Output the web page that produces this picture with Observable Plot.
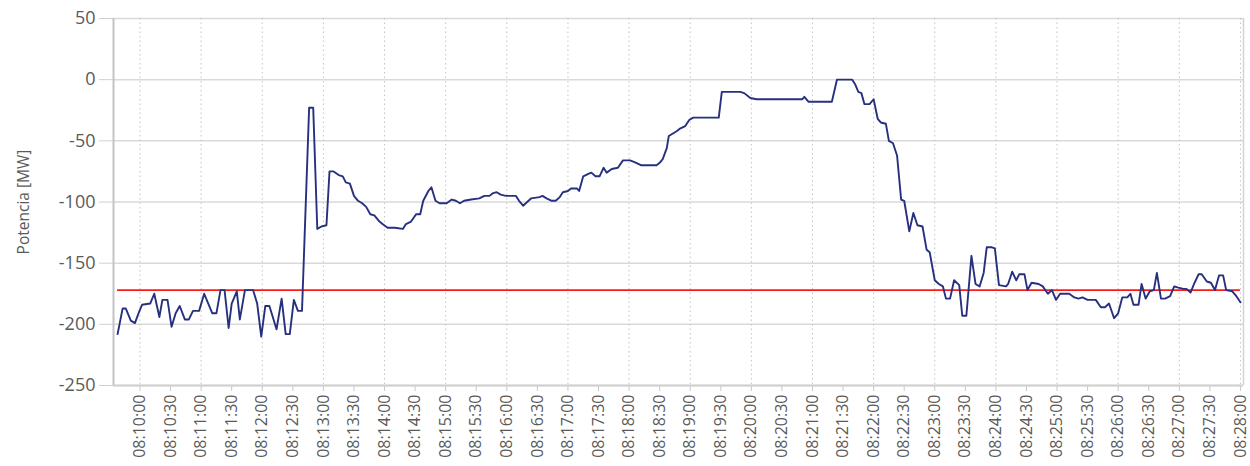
<!DOCTYPE html>
<html>
<head>
<meta charset="utf-8">
<script src="https://cdn.jsdelivr.net/npm/d3@7"></script>
<script src="https://cdn.jsdelivr.net/npm/@observablehq/plot@0.6"></script>
<style>
  html, body { margin: 0; padding: 0; background: #fff; }
  #chart { width: 1250px; height: 466px; }
</style>
</head>
<body>
<div id="chart"></div>
<script>
// ---- data ----
const times = [
  "08:09:38","08:09:43","08:09:46","08:09:51","08:09:55","08:09:59","08:10:02","08:10:10","08:10:14","08:10:19",
  "08:10:22","08:10:27","08:10:31","08:10:35","08:10:39","08:10:44","08:10:48","08:10:52","08:10:58","08:11:03",
  "08:11:07","08:11:11","08:11:15","08:11:19","08:11:23","08:11:27","08:11:30","08:11:35","08:11:38","08:11:43",
  "08:11:51","08:11:55","08:11:59","08:12:03","08:12:07","08:12:14","08:12:19","08:12:23","08:12:27","08:12:31",
  "08:12:35","08:12:39","08:12:46","08:12:50","08:12:54","08:12:58","08:13:03","08:13:06","08:13:10","08:13:15",
  "08:13:19","08:13:22","08:13:26","08:13:30","08:13:34","08:13:38","08:13:42","08:13:46","08:13:50","08:13:55",
  "08:13:58","08:14:03","08:14:10","08:14:18","08:14:21","08:14:26","08:14:31","08:14:35","08:14:38","08:14:43",
  "08:14:46","08:14:50","08:14:54","08:15:01","08:15:06","08:15:10","08:15:14","08:15:18","08:15:25","08:15:33",
  "08:15:38","08:15:43","08:15:46","08:15:50","08:15:54","08:15:59","08:16:09","08:16:12","08:16:16","08:16:20",
  "08:16:24","08:16:32","08:16:35","08:16:39","08:16:44","08:16:48","08:16:52","08:16:55","08:17:00","08:17:03",
  "08:17:09","08:17:11","08:17:15","08:17:20","08:17:23","08:17:27","08:17:31","08:17:35","08:17:38","08:17:43",
  "08:17:49","08:17:54","08:18:01","08:18:07","08:18:12","08:18:27","08:18:30","08:18:33","08:18:37","08:18:39",
  "08:18:43","08:18:47","08:18:50","08:18:55","08:18:59","08:19:03","08:19:28","08:19:31","08:19:36","08:19:49",
  "08:19:53","08:19:59","08:20:05","08:20:50","08:20:52","08:20:56","08:21:19","08:21:24","08:21:39","08:21:42",
  "08:21:45","08:21:48","08:21:51","08:21:56","08:22:00","08:22:04","08:22:07","08:22:12","08:22:15","08:22:19",
  "08:22:23","08:22:27","08:22:30","08:22:35","08:22:39","08:22:43","08:22:48","08:22:52","08:22:55","08:23:00",
  "08:23:04","08:23:08","08:23:11","08:23:15","08:23:19","08:23:24","08:23:27","08:23:31","08:23:36","08:23:40",
  "08:23:44","08:23:48","08:23:51","08:23:56","08:23:59","08:24:03","08:24:10","08:24:12","08:24:16","08:24:20",
  "08:24:23","08:24:28","08:24:31","08:24:35","08:24:42","08:24:46","08:24:51","08:24:55","08:24:59","08:25:03",
  "08:25:12","08:25:17","08:25:21","08:25:25","08:25:30","08:25:38","08:25:43","08:25:47","08:25:51","08:25:56",
  "08:26:00","08:26:04","08:26:09","08:26:12","08:26:15","08:26:20","08:26:23","08:26:27","08:26:31","08:26:35",
  "08:26:38","08:26:42","08:26:46","08:26:51","08:26:55","08:26:59","08:27:04","08:27:07","08:27:11","08:27:15",
  "08:27:19","08:27:22","08:27:27","08:27:31","08:27:35","08:27:39","08:27:43","08:27:46","08:27:52","08:27:56",
  "08:28:00"
];
const power = [
  -208,-187,-187,-197,-199,-190,-184,-183,-175,-194,
  -180,-180,-202,-191,-185,-196,-196,-189,-189,-175,
  -183,-191,-191,-172,-172,-203,-183,-173,-196,-172,
  -172,-183,-210,-185,-185,-204,-179,-208,-208,-180,
  -189,-189,-23,-23,-122,-120,-119,-75,-75,-78,
  -79,-84,-85,-95,-99,-101,-104,-110,-111,-116,
  -118,-121,-121,-122,-118,-116,-110,-110,-99,-91,
  -88,-99,-101,-101,-98,-99,-101,-99,-98,-97,
  -95,-95,-93,-92,-94,-95,-95,-99,-103,-100,
  -97,-96,-95,-97,-99,-99,-96,-92,-91,-89,
  -89,-91,-79,-77,-76,-79,-79,-72,-76,-73,
  -72,-66,-66,-68,-70,-70,-68,-65,-56,-46,
  -44,-42,-40,-38,-33,-31,-31,-10,-10,-10,
  -11,-15,-16,-16,-14,-18,-18,0,0,-4,
  -10,-11,-20,-20,-16,-32,-35,-36,-50,-52,
  -62,-98,-99,-124,-109,-119,-120,-139,-141,-164,
  -167,-169,-179,-179,-164,-168,-193,-193,-144,-167,
  -169,-158,-137,-137,-138,-168,-169,-167,-157,-164,
  -159,-159,-172,-166,-167,-169,-175,-172,-180,-175,
  -175,-178,-179,-178,-180,-180,-186,-186,-183,-195,
  -191,-178,-178,-175,-184,-184,-167,-179,-173,-172,
  -158,-179,-179,-177,-169,-170,-171,-171,-174,-166,
  -159,-159,-165,-166,-172,-160,-160,-172,-173,-177,
  -182
];
const referenceLevel = -172;
const yTicks = [-250, -200, -150, -100, -50, 0, 50];
const xTickLabels = [
  "08:10:00","08:10:30","08:11:00","08:11:30","08:12:00","08:12:30","08:13:00","08:13:30","08:14:00","08:14:30",
  "08:15:00","08:15:30","08:16:00","08:16:30","08:17:00","08:17:30","08:18:00","08:18:30","08:19:00","08:19:30",
  "08:20:00","08:20:30","08:21:00","08:21:30","08:22:00","08:22:30","08:23:00","08:23:30","08:24:00","08:24:30",
  "08:25:00","08:25:30","08:26:00","08:26:30","08:27:00","08:27:30","08:28:00"
];
const xExtent = ["08:09:34", "08:28:03"];
const yLabel = "Potencia [MW]";

// ---- build ----
const parseT = (s) => new Date(`2020-01-01T${s}Z`);
const data = times.map((t, i) => ({time: parseT(t), value: power[i]}));
const xTicks = xTickLabels.map(parseT);
const minuteTicks = xTicks.filter(d => d.getUTCSeconds() === 0);
const xDomain = xExtent.map(parseT);
const fmt = d3.utcFormat("%H:%M:%S");
const textColor = "#5a5a5a";

const chart = Plot.plot({
  width: 1250,
  height: 466,
  marginLeft: 113,
  marginRight: 7,
  marginTop: 18,
  marginBottom: 81,
  style: {fontFamily: "'Open Sans', 'Noto Sans', sans-serif", background: "#fff"},
  x: {type: "utc", domain: xDomain},
  y: {domain: [-250, 50]},
  marks: [
    Plot.gridY(yTicks, {stroke: "#d9d9d9", strokeOpacity: 1, strokeWidth: 1.5}),
    Plot.gridX(minuteTicks, {stroke: "#c4c4c4", strokeOpacity: 1, strokeDasharray: "1.5,3"}),
    Plot.axisY(yTicks, {tickSize: 14, tickPadding: 4, fontSize: 18, stroke: "#d0d0d0", fill: textColor, tickFormat: d => String(d), label: null}),
    Plot.axisY({ticks: [], tickSize: 0, label: yLabel, labelAnchor: "center", labelArrow: "none", labelOffset: 96, fontSize: 15.5, fill: textColor}),
    Plot.axisX(xTicks, {tickSize: 6, tickPadding: 3, tickRotate: -90, tickFormat: fmt, fontSize: 16, stroke: "#c8c8c8", fill: textColor, label: null}),
    Plot.ruleX([xDomain[0]], {stroke: "#c4c4c4", strokeWidth: 2}),
    Plot.ruleX([xDomain[1]], {stroke: "#d4d4d4", strokeWidth: 1.5}),
    Plot.ruleY([-250], {stroke: "#d0d0d0", strokeWidth: 2}),
    Plot.ruleY([referenceLevel], {x1: data[0].time, x2: data[data.length - 1].time, stroke: "#ff1a1a", strokeWidth: 1.6}),
    Plot.line(data, {x: "time", y: "value", stroke: "#27307f", strokeWidth: 1.9, strokeLinejoin: "round"})
  ]
});
document.getElementById("chart").appendChild(chart);
</script>
</body>
</html>
